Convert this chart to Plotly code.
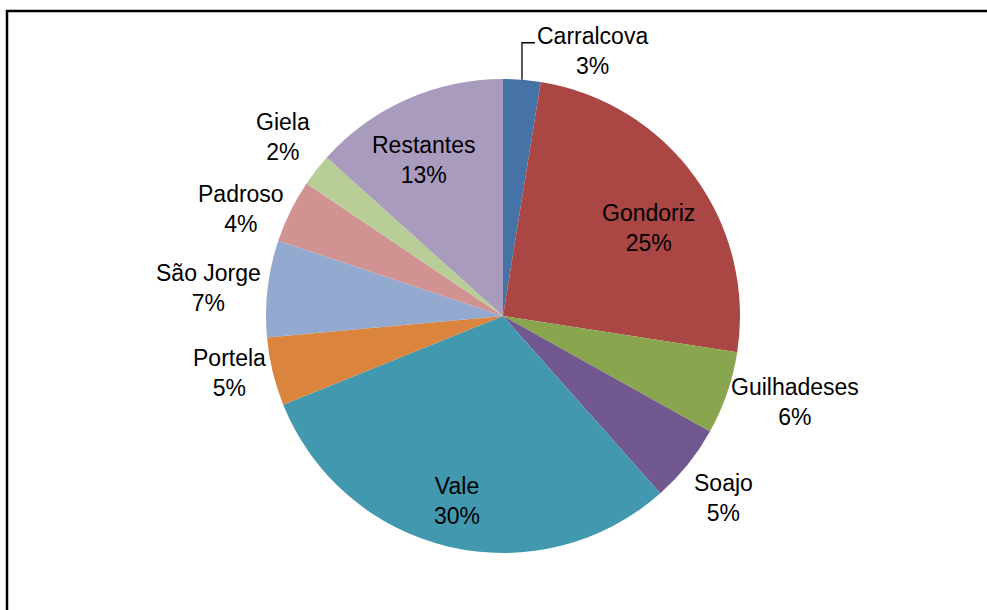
import math
import plotly.graph_objects as go

# Share of each parish (percent), listed clockwise from 12 o'clock
parishes = ["Carralcova", "Gondoriz", "Guilhadeses", "Soajo", "Vale",
            "Portela", "São Jorge", "Padroso", "Giela", "Restantes"]
shares = [2.55, 24.9, 5.65, 5.35, 30.45, 4.65, 6.6, 4.3, 2.2, 13.35]
colors = ["#4573A7", "#AA4643", "#89A54E", "#71588F", "#4198AF",
          "#DB843D", "#93A9CF", "#D19392", "#B9CD96", "#A99BBD"]
inside = {"Gondoriz", "Vale", "Restantes"}

W, H = 987, 610
cx, cy, r = 503, 316, 237          # pie centre and radius, px
FONT = dict(family="Liberation Sans, Arial, sans-serif", size=23, color="black")


def to_paper(px, py):
    return px / W, 1 - py / H


fig = go.Figure(go.Pie(
    labels=parishes,
    values=shares,
    sort=False,
    direction="clockwise",
    rotation=0,
    marker=dict(colors=colors, line=dict(width=0)),
    textinfo="none",
    hoverinfo="label+percent",
    showlegend=False,
    domain=dict(x=[(cx - r) / W, (cx + r) / W],
                y=[(H - cy - r) / H, (H - cy + r) / H]),
))

# Data labels: name over rounded percentage, placed from each slice's mid-angle
total = sum(shares)
annotations = []
shapes = []
inside_nudge = {"Gondoriz": (0, 18), "Vale": (-3, 0), "Restantes": (-8, 4)}
inside_k = {"Gondoriz": 0.76, "Vale": 0.8, "Restantes": 0.74}
outside_nudge = {"Guilhadeses": (-3, 7)}
cum = 0.0
for name, v in zip(parishes, shares):
    mid = (cum + v / 2) / total * 2 * math.pi
    cum += v
    s, c = math.sin(mid), math.cos(mid)
    text = f"{name}<br>{round(v / total * 100):.0f}%"
    if name in inside:
        k = inside_k[name]
        nx, ny = inside_nudge[name]
        px, py = cx + k * r * s + nx, cy - k * r * c + ny
        x, y = to_paper(px, py)
        annotations.append(dict(x=x, y=y, xref="paper", yref="paper", text=text,
                                showarrow=False, xanchor="center", yanchor="middle",
                                align="center", font=FONT))
        continue
    ex, ey = cx + r * s, cy - r * c       # point on the rim
    if name == "Carralcova":
        # label lifted above the pie with an elbow leader line
        top = ey - 37
        shapes.append(dict(type="path", xref="paper", yref="paper",
                           path="M {} {} L {} {} L {} {}".format(
                               *to_paper(ex, ey), *to_paper(ex, top), *to_paper(ex + 13, top)),
                           line=dict(color="black", width=1.3)))
        x, y = to_paper(ex + 13, top + 8)
        annotations.append(dict(x=x, y=y, xref="paper", yref="paper", text=text,
                                showarrow=False, xanchor="left", yanchor="middle",
                                align="center", font=FONT))
        continue
    xa = "left" if s > 0.5 else ("right" if s < -0.5 else "center")
    ya = "bottom" if c > 0.5 else ("top" if c < -0.5 else "middle")
    gap = 5
    nx, ny = outside_nudge.get(name, (0, 0))
    x, y = to_paper(ex + gap * s + nx, ey - gap * c + ny)
    annotations.append(dict(x=x, y=y, xref="paper", yref="paper", text=text,
                            showarrow=False, xanchor=xa, yanchor=ya,
                            align="center", font=FONT))

# chart frame (left and top edges visible; the rest runs off the page)
shapes.append(dict(type="rect", xref="paper", yref="paper",
                   x0=7 / W, x1=1.05, y0=-0.05, y1=1 - 11 / H,
                   line=dict(color="black", width=2.5)))

fig.update_layout(
    width=W, height=H,
    margin=dict(l=0, r=0, t=0, b=0),
    paper_bgcolor="white",
    plot_bgcolor="white",
    annotations=annotations,
    shapes=shapes,
)

fig.write_html("out.html")
